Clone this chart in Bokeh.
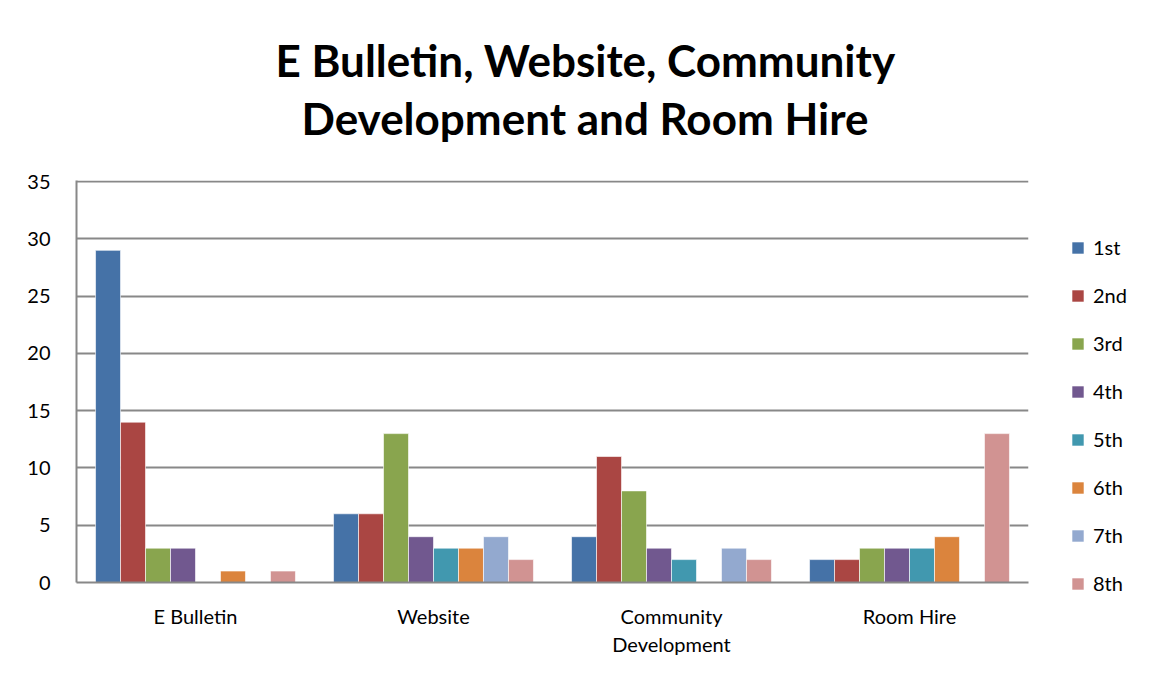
from bokeh.plotting import figure
from bokeh.models import ColumnDataSource, Legend, LegendItem, Title, SingleIntervalTicker, Range1d, FactorRange
from bokeh.transform import dodge
from bokeh.embed import file_html
from bokeh.resources import INLINE

categories = ["E Bulletin", "Website", "Community\nDevelopment", "Room Hire"]
series_names = ["1st", "2nd", "3rd", "4th", "5th", "6th", "7th", "8th"]
s1 = [29, 6, 4, 2]
s2 = [14, 6, 11, 2]
s3 = [3, 13, 8, 3]
s4 = [3, 4, 3, 3]
s5 = [0, 3, 2, 3]
s6 = [1, 3, 0, 4]
s7 = [0, 4, 3, 0]
s8 = [1, 2, 2, 13]
colors = ["#4572A7", "#AA4643", "#89A54E", "#71588F", "#4198AF", "#DB843D", "#93A9CF", "#D19392"]
series = [s1, s2, s3, s4, s5, s6, s7, s8]
title_lines = ["E Bulletin, Website, Community", "Development and Room Hire"]

FONT = "Lato"

src = ColumnDataSource(dict(cat=categories, **{n: v for n, v in zip(series_names, series)}))

p = figure(x_range=FactorRange(*categories), y_range=Range1d(0, 35.1),
           width=1134, height=659, frame_width=952, frame_height=402,
           output_backend="svg", toolbar_location=None,
           min_border_left=76, min_border_right=106, min_border_top=180, min_border_bottom=77)
p.outline_line_color = None

bw = 0.105
items = []
for i, (name, col) in enumerate(zip(series_names, colors)):
    r = p.vbar(x=dodge("cat", (i - 3.5) * bw, range=p.x_range), top=name, width=bw, source=src,
               fill_color=col, line_color="white", line_alpha=0.6, line_width=1)
    items.append(LegendItem(label=name, renderers=[r]))

p.add_layout(Title(text=title_lines[1], text_font_size="44px", text_font=FONT, text_color="#000000",
                   text_font_style="bold", align="left", offset=225, standoff=74), "above")
p.add_layout(Title(text=title_lines[0], text_font_size="44px", text_font=FONT, text_color="#000000",
                   text_font_style="bold", align="left", offset=199, standoff=-67), "above")
p.title.visible = False

p.yaxis.ticker = SingleIntervalTicker(interval=5)
p.yaxis.major_tick_out = 0
p.yaxis.major_tick_in = 0
p.yaxis.minor_tick_line_color = None
p.yaxis.axis_line_color = "#888888"
p.yaxis.axis_line_width = 2
p.yaxis.major_label_text_font = FONT
p.yaxis.major_label_text_font_size = "20px"
p.yaxis.major_label_text_color = "#000000"
p.yaxis.major_label_standoff = 22

p.xaxis.major_tick_out = 0
p.xaxis.major_tick_in = 0
p.xaxis.axis_line_color = "#888888"
p.xaxis.axis_line_width = 2
p.xaxis.major_label_text_font = FONT
p.xaxis.major_label_text_font_size = "20px"
p.xaxis.major_label_text_color = "#000000"
p.xaxis.major_label_standoff = 21
p.xaxis.major_label_orientation = "horizontal"

p.xgrid.grid_line_color = None
p.ygrid.grid_line_color = "#888888"
p.ygrid.grid_line_width = 2

legend = Legend(items=items, location=(42, -13), orientation="vertical",
                label_text_font=FONT, label_text_font_size="20px", label_text_color="#000000",
                glyph_width=15, glyph_height=15, label_height=24, spacing=24,
                border_line_color=None, background_fill_alpha=0, padding=0, margin=0,
                label_standoff=8)
p.add_layout(legend, "right")

open("out.html", "w").write(file_html(p, INLINE))
